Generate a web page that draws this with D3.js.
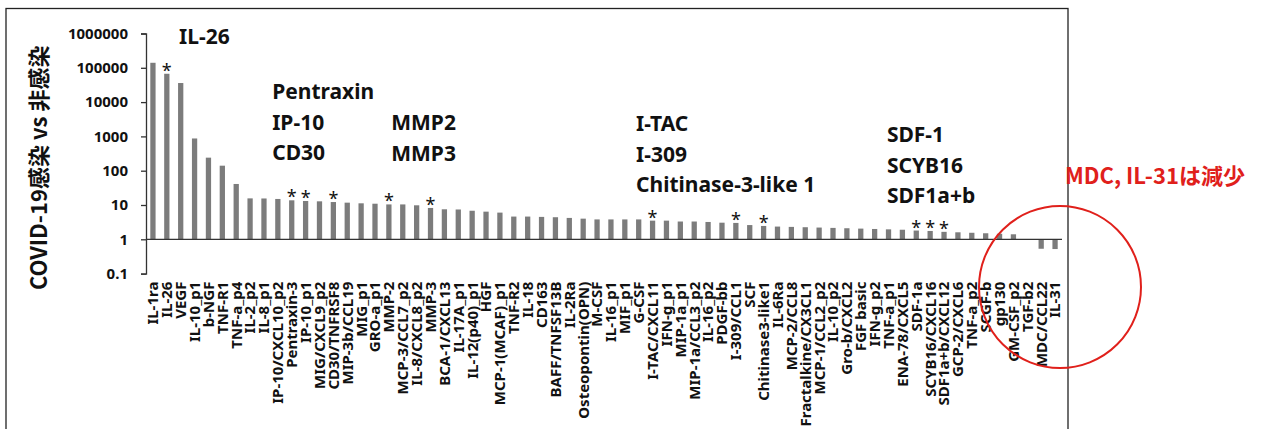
<!DOCTYPE html>
<html>
<head>
<meta charset="utf-8">
<script src="https://cdn.jsdelivr.net/npm/d3@7"></script>
<style>
  body { margin: 0; background: #fff; }
  svg { display: block; font-family: "Noto Sans", "Noto Sans CJK JP", sans-serif; }
</style>
</head>
<body>
<svg id="chart" width="1265" height="429"></svg>
<script>
// cytokine names, in the order of the bars
let cytokines = ["IL-1ra", "IL-26", "VEGF", "IL-10_p1", "b-NGF", "TNF-R1", "TNF-a_p4", "IL-2_p2", "IL-8_p1",
  "IP-10/CXCL10_p2", "Pentraxin-3", "IP-10_p1", "MIG/CXCL9_p2", "CD30/TNFRSF8", "MIP-3b/CCL19", "MIG_p1",
  "GRO-a_p1", "MMP-2", "MCP-3/CCL7_p2", "IL-8/CXCL8_p2", "MMP-3", "BCA-1/CXCL13", "IL-17A_p1", "IL-12(p40)_p1",
  "HGF", "MCP-1(MCAF)_p1", "TNF-R2", "IL-18", "CD163", "BAFF/TNFSF13B", "IL-2Ra", "Osteopontin(OPN)", "M-CSF",
  "IL-16_p1", "MIF_p1", "G-CSF", "I-TAC/CXCL11", "IFN-g_p1", "MIP-1a_p1", "MIP-1a/CCL3_p2", "IL-16_p2",
  "PDGF-bb", "I-309/CCL1", "SCF", "Chitinase3-like1", "IL-6Ra", "MCP-2/CCL8", "Fractalkine/CX3CL1",
  "MCP-1/CCL2_p2", "IL-10_p2", "Gro-b/CXCL2", "FGF basic", "IFN-g_p2", "TNF-a_p1", "ENA-78/CXCL5", "SDF-1a",
  "SCYB16/CXCL16", "SDF1a+b/CXCL12", "GCP-2/CXCL6", "TNF-a_p2", "SCGF-b", "gp130", "GM-CSF_p2", "TGF-b2",
  "MDC/CCL22", "IL-31"];

// ratio COVID-19 / non infected
let ratios = [140000, 67000, 36000, 870, 240, 140, 41, 15.6, 15.5,
  15, 13.7, 13.1, 12.8, 12.2, 11.7, 11.2,
  10.9, 10.4, 10.4, 9.8, 8.2, 7.5, 7.4, 6.8,
  6.4, 6.0, 4.6, 4.6, 4.5, 4.4, 4.2, 4.0, 3.8,
  3.8, 3.8, 3.8, 3.5, 3.5, 3.3, 3.3, 3.2,
  3.05, 3.0, 2.6, 2.45, 2.35, 2.3, 2.25,
  2.2, 2.15, 2.1, 2.05, 2.0, 1.95, 1.9, 1.8,
  1.75, 1.65, 1.6, 1.55, 1.5, 1.45, 1.4, 0.97,
  0.53, 0.52];

// significant ones get a star
let starred = ["IL-26", "Pentraxin-3", "IP-10_p1", "CD30/TNFRSF8", "MMP-2", "MMP-3", "I-TAC/CXCL11",
  "I-309/CCL1", "Chitinase3-like1", "SDF-1a", "SCYB16/CXCL16", "SDF1a+b/CXCL12"];

let yTicks = [0.1, 1, 10, 100, 1000, 10000, 100000, 1000000];

// text blocks above the bars: anchored on a category
let notes = [
  {anchor: "VEGF", dx: 1, top: 44, lines: ["IL-26"]},
  {anchor: "IP-10/CXCL10_p2", dx: -3, top: 99, lines: ["Pentraxin", "IP-10", "CD30"]},
  {anchor: "MMP-2", dx: 5, top: 130, lines: ["MMP2", "MMP3"]},
  {anchor: "G-CSF", dx: 0, top: 131, lines: ["I-TAC", "I-309", "Chitinase-3-like 1"]},
  {anchor: "TNF-a_p1", dx: 1, top: 142, lines: ["SDF-1", "SCYB16", "SDF1a+b"]}
];

let yTitle = "COVID-19感染 vs 非感染";
let redNote = "MDC, IL-31は減少";

let margin = {top: 34, right: 203, bottom: 155, left: 146};
let W = 1265, H = 429;
let svg = d3.select("#chart");

// frame
svg.append("rect")
  .attr("x", 6).attr("y", 8.5)
  .attr("width", 1062).attr("height", 440)
  .attr("fill", "none")
  .attr("stroke", "#222")
  .attr("stroke-width", 1.3);

let x = d3.scaleBand()
  .domain(cytokines)
  .range([margin.left, W - margin.right])
  .paddingInner(0.62)
  .paddingOuter(0.31);

let y = d3.scaleLog()
  .domain([0.1, 1000000])
  .range([H - margin.bottom - 0.4, margin.top - 0.5]);

let data = cytokines.map((c, i) => ({name: c, v: ratios[i]}));

// bars (from 1 up or down)
svg.append("g")
  .selectAll("rect")
  .data(data)
  .join("rect")
    .attr("x", d => x(d.name))
    .attr("width", x.bandwidth())
    .attr("y", d => Math.min(y(d.v), y(1)))
    .attr("height", d => Math.abs(y(d.v) - y(1)))
    .attr("fill", "#7c7c7c");

// baseline at 1
svg.append("line")
  .attr("x1", margin.left).attr("x2", W - margin.right)
  .attr("y1", y(1)).attr("y2", y(1))
  .attr("stroke", "#333")
  .attr("stroke-width", 1.3);

// y axis
let yAxis = svg.append("g")
  .attr("transform", `translate(${margin.left},0)`)
  .call(d3.axisLeft(y).tickValues(yTicks).tickFormat(d => String(d)).tickSize(5).tickSizeOuter(5).tickPadding(13));
yAxis.selectAll("path, line").attr("stroke", "#333").attr("stroke-width", 1.3);
yAxis.selectAll("text")
  .attr("font-size", 15)
  .attr("font-weight", "bold")
  .attr("fill", "#111")
  .attr("font-family", "Noto Sans");

svg.append("text")
  .attr("transform", `translate(47,${(margin.top + y(0.1)) / 2 + 14}) rotate(-90)`)
  .attr("text-anchor", "middle")
  .attr("font-size", 22)
  .attr("font-weight", "bold")
  .attr("fill", "#111")
  .attr("font-family", "Noto Sans CJK JP")
  .text(yTitle);

// category labels
let labelSize = 15;
svg.append("g")
  .selectAll("text")
  .data(cytokines)
  .join("text")
    .attr("transform", d => `translate(${x(d) + x.bandwidth() / 2 + labelSize * 0.36},${y(0.1) + 8}) rotate(-90)`)
    .attr("text-anchor", "end")
    .attr("font-size", labelSize)
    .attr("font-weight", "bold")
    .attr("fill", "#111")
    .text(d => d);

// stars
svg.append("g")
  .selectAll("text")
  .data(data.filter(d => starred.includes(d.name)))
  .join("text")
    .attr("x", d => x(d.name) + x.bandwidth() / 2)
    .attr("y", d => y(d.v) + 3)
    .attr("text-anchor", "middle")
    .attr("font-size", 18)
    .attr("fill", "#111")
    .text("*");

// notes
let ng = svg.append("g")
  .attr("font-size", 21)
  .attr("font-weight", "bold")
  .attr("fill", "#111");
notes.forEach(n => {
  n.lines.forEach((t, i) => {
    ng.append("text")
      .attr("x", x(n.anchor) + n.dx)
      .attr("y", n.top + i * 30.5)
      .text(t);
  });
});

// red circle + note
svg.append("circle")
  .attr("cx", 1060).attr("cy", 287).attr("r", 81)
  .attr("fill", "none")
  .attr("stroke", "#e0201b")
  .attr("stroke-width", 2);

svg.append("text")
  .attr("x", 1065).attr("y", 184)
  .attr("font-size", 22)
  .attr("font-weight", "bold")
  .attr("fill", "#e0201b")
  .attr("font-family", "Noto Sans CJK JP")
  .text(redNote);
</script>
</body>
</html>
